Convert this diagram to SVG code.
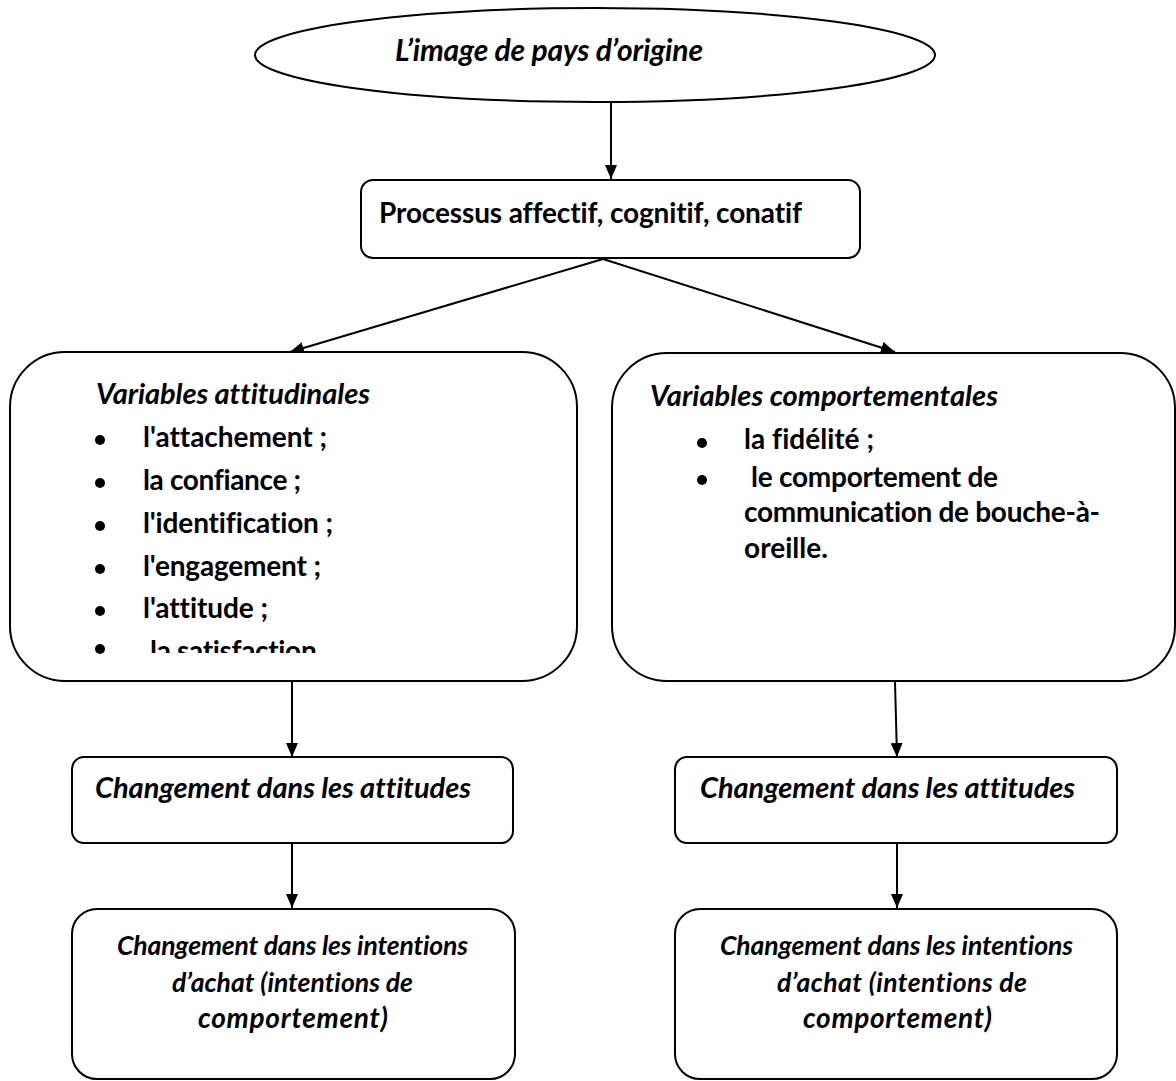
<svg xmlns="http://www.w3.org/2000/svg" width="1176" height="1081" viewBox="0 0 1176 1081">
<defs>
<style>
.shape{fill:#fff;stroke:#000;stroke-width:2}
.t{font-family:Lato,"Liberation Sans",sans-serif;font-weight:bold;fill:#000;font-variant-ligatures:none}
.i{font-style:italic}
.edge{stroke:#000;stroke-width:2;fill:none;marker-end:url(#ah)}
</style>
<marker id="ah" viewBox="0 0 14 12" refX="14" refY="6" markerWidth="14" markerHeight="12" markerUnits="userSpaceOnUse" orient="auto">
<path d="M0,0 L14,6 L0,12 Z" fill="#000"/>
</marker>
<clipPath id="clipL"><rect x="10" y="352" width="567" height="301"/></clipPath>
</defs>
<rect width="1176" height="1081" fill="#fff"/>
<g id="connectors">
<line class="edge" x1="611" y1="103" x2="611" y2="179"/>
<line class="edge" x1="603" y1="259" x2="290" y2="352"/>
<line class="edge" x1="603" y1="259" x2="895" y2="352"/>
<line class="edge" x1="292" y1="682" x2="292" y2="757"/>
<line class="edge" x1="895" y1="682" x2="897" y2="757"/>
<line class="edge" x1="292" y1="843" x2="292" y2="908"/>
<line class="edge" x1="897" y1="843" x2="897" y2="908"/>
</g>
<g id="origine">
<ellipse class="shape" cx="595" cy="55" rx="340" ry="47"/>
<text class="t i" x="395" y="61" font-size="30" textLength="308" lengthAdjust="spacing">L’image de pays d’origine</text>
</g>
<g id="processus">
<rect class="shape" x="361" y="180" width="499" height="78" rx="12"/>
<text class="t" x="379" y="223" font-size="28" textLength="423" lengthAdjust="spacing">Processus affectif, cognitif, conatif</text>
</g>
<g id="attitudinales">
<rect class="shape" x="10" y="352" width="567" height="329" rx="55"/>
<text class="t i" x="96" y="404" font-size="29" textLength="274" lengthAdjust="spacing">Variables attitudinales</text>
<g class="t" font-size="28">
<circle cx="100" cy="440" r="5"/><text x="143" y="447" textLength="184" lengthAdjust="spacing">l'attachement ;</text>
<circle cx="100" cy="483" r="5"/><text x="143" y="490" textLength="158" lengthAdjust="spacing">la confiance ;</text>
<circle cx="100" cy="526" r="5"/><text x="143" y="533" textLength="190" lengthAdjust="spacing">l'identification ;</text>
<circle cx="100" cy="569" r="5"/><text x="143" y="576" textLength="178" lengthAdjust="spacing">l'engagement ;</text>
<circle cx="100" cy="611" r="5"/><text x="143" y="618" textLength="125" lengthAdjust="spacing">l'attitude ;</text>
<circle cx="100" cy="649" r="5"/><text x="150" y="661" clip-path="url(#clipL)" textLength="173" lengthAdjust="spacing">la satisfaction.</text>
</g>
</g>
<g id="comportementales">
<rect class="shape" x="612" y="353" width="563" height="328" rx="55"/>
<text class="t i" x="650" y="406" font-size="29" textLength="348" lengthAdjust="spacing">Variables comportementales</text>
<g class="t" font-size="28">
<circle cx="702" cy="443" r="5"/><text x="744" y="449" textLength="130" lengthAdjust="spacing">la fidélité ;</text>
<circle cx="702" cy="480" r="5"/><text x="751" y="487" textLength="247" lengthAdjust="spacing">le comportement de</text>
<text x="744" y="522" textLength="356" lengthAdjust="spacing">communication de bouche-à-</text>
<text x="744" y="558" textLength="84" lengthAdjust="spacing">oreille.</text>
</g>
</g>
<g id="changement-attitudes-left">
<rect class="shape" x="72" y="757" width="441" height="86" rx="12"/>
<text class="t i" x="95" y="798" font-size="29" textLength="376" lengthAdjust="spacing">Changement dans les attitudes</text>
</g>
<g id="changement-attitudes-right">
<rect class="shape" x="675" y="757" width="442" height="86" rx="12"/>
<text class="t i" x="700" y="798" font-size="29" textLength="375" lengthAdjust="spacing">Changement dans les attitudes</text>
</g>
<g id="intentions-left">
<rect class="shape" x="72" y="909" width="443" height="170" rx="25"/>
<g class="t i" font-size="26.5" text-anchor="middle">
<text x="292.5" y="955" textLength="351" lengthAdjust="spacing">Changement dans les intentions</text>
<text x="292.5" y="992" textLength="241" lengthAdjust="spacing">d’achat (intentions de</text>
<text x="293" y="1028" font-size="28" textLength="190" lengthAdjust="spacing">comportement)</text>
</g>
</g>
<g id="intentions-right">
<rect class="shape" x="675" y="909" width="442" height="170" rx="25"/>
<g class="t i" font-size="26.5" text-anchor="middle">
<text x="896.5" y="955" textLength="353" lengthAdjust="spacing">Changement dans les intentions</text>
<text x="902" y="992" textLength="250" lengthAdjust="spacing">d’achat (intentions de</text>
<text x="897.5" y="1028" font-size="28" textLength="189" lengthAdjust="spacing">comportement)</text>
</g>
</g>
</svg>
